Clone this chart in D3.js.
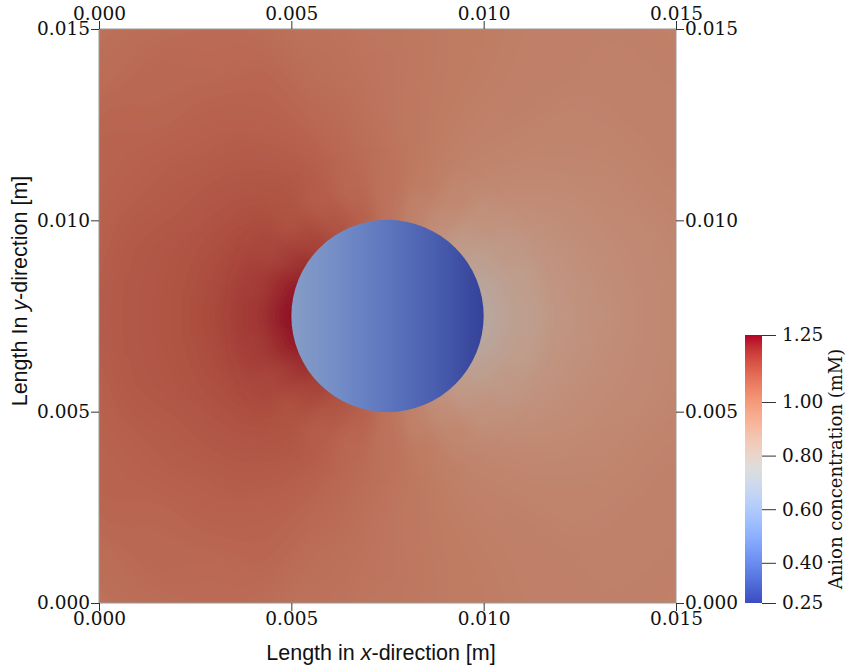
<!DOCTYPE html>
<html>
<head>
<meta charset="utf-8">
<title>Anion concentration around a cylinder</title>
<script src="https://d3js.org/d3.v7.min.js"></script>
<style>
  body { margin: 0; background: #fff; }
  .tick line { stroke: #333; }
</style>
</head>
<body>
<div id="chart"></div>
<script>
// ---- data ----
var xTicks = [0, 0.005, 0.010, 0.015];
var yTicks = [0, 0.005, 0.010, 0.015];
var cbTicks = [0.25, 0.40, 0.60, 0.80, 1.00, 1.25];

var cylCenter = [0.0075, 0.0075];   // m
var cylRadius = 0.0025;             // m

// sample angles (deg, counter-clockwise from +x), upper half; lower half is mirrored
var angles = [0, 15, 30, 45, 60, 75, 90, 105, 120, 135, 150, 165, 180];
// ring boundaries (distance from cylinder centre, m)
var ringEdges = [0.0025, 0.0028, 0.00325, 0.003875, 0.00475, 0.006, 0.0075, 0.0095, 0.0115];
// concentration (mM) per ring x angle
var ringValues = [
  [0.80, 0.81, 0.84, 0.88, 0.93, 0.98, 1.03, 1.08, 1.12, 1.16, 1.20, 1.23, 1.25],
  [0.83, 0.84, 0.86, 0.89, 0.94, 0.98, 1.03, 1.07, 1.10, 1.14, 1.17, 1.20, 1.21],
  [0.86, 0.87, 0.89, 0.92, 0.96, 1.00, 1.03, 1.06, 1.09, 1.12, 1.15, 1.17, 1.18],
  [0.89, 0.90, 0.91, 0.94, 0.97, 1.00, 1.03, 1.06, 1.10, 1.12, 1.14, 1.15, 1.16],
  [0.92, 0.93, 0.94, 0.96, 0.98, 1.00, 1.02, 1.05, 1.08, 1.10, 1.11, 1.12, 1.12],
  [0.95, 0.95, 0.96, 0.97, 0.99, 1.00, 1.02, 1.04, 1.07, 1.08, 1.09, 1.10, 1.10],
  [0.97, 0.97, 0.98, 0.98, 0.99, 1.00, 1.01, 1.03, 1.05, 1.06, 1.07, 1.07, 1.08],
  [0.98, 0.98, 0.98, 0.99, 0.99, 1.00, 1.01, 1.02, 1.03, 1.04, 1.04, 1.05, 1.05]
];

// inside the cylinder the value runs left to right
var insideX = [0.005, 0.00625, 0.0075, 0.00875, 0.010];
var insideValues = [0.58, 0.50, 0.42, 0.34, 0.25];

// cool to warm colour map
var coolWarm = ["#3b4cc0", "#4d68d7", "#6282ea", "#779af7", "#8db0fe", "#a3c2ff",
  "#b8d0f9", "#ccd9ee", "#dddddd", "#ecd3c5", "#f5c4ad", "#f7b194",
  "#f49a7b", "#ec7f63", "#de604d", "#cb3e38", "#b40426"];

var width = 846, height = 668;

var x = d3.scaleLinear().domain([0, 0.015]).range([99, 676]);
var y = d3.scaleLinear().domain([0, 0.015]).range([603, 29]);
var cb = d3.scaleLinear().domain([0.25, 1.25]).range([603, 335]);
var color = d3.scaleSequential(d3.piecewise(d3.interpolateRgb, coolWarm))
  .domain([0.25, 1.25]).clamp(true);

// surface is lit in the render, colours come out darker
function shade(c) {
  var k = d3.rgb(c);
  return d3.rgb(k.r * 0.75 + 8, k.g * 0.75 + 8, k.b * 0.75 + 8).formatHex();
}
function len(d) { return x(d) - x(0); }

var svg = d3.select("#chart").append("svg")
  .attr("width", width).attr("height", height);
var defs = svg.append("defs");

defs.append("clipPath").attr("id", "plotClip")
  .append("rect")
  .attr("x", x(0)).attr("y", y(0.015))
  .attr("width", x(0.015) - x(0)).attr("height", y(0) - y(0.015));

function addBlur(id, sd) {
  var f = defs.append("filter").attr("id", id)
    .attr("filterUnits", "userSpaceOnUse")
    .attr("x", -300).attr("y", -300).attr("width", 1500).attr("height", 1300);
  f.append("feGaussianBlur").attr("stdDeviation", sd);
}
addBlur("softFar", 20);
addBlur("softNear", 8);

// field cells
var cells = [];
ringValues.forEach(function (row, b) {
  angles.forEach(function (a, k) {
    cells.push({ b: b, a: a, v: row[k] });
    if (a > 0 && a < 180) cells.push({ b: b, a: -a, v: row[k] });
  });
});

var arc = d3.arc()
  .innerRadius(function (d) { return d.b === 0 ? 0 : len(ringEdges[d.b]); })
  .outerRadius(function (d) { return len(ringEdges[d.b + 1]); })
  .startAngle(function (d) { return (90 - d.a - 7.5) * Math.PI / 180; })
  .endAngle(function (d) { return (90 - d.a + 7.5) * Math.PI / 180; });

var field = svg.append("g").attr("clip-path", "url(#plotClip)");

function drawCells(list, filterId) {
  field.append("g")
    .attr("filter", "url(#" + filterId + ")")
    .attr("transform", "translate(" + x(cylCenter[0]) + "," + y(cylCenter[1]) + ")")
    .selectAll("path")
    .data(list)
    .enter()
    .append("path")
    .attr("d", arc)
    .attr("fill", function (d) { return shade(color(d.v)); })
    .attr("stroke", function (d) { return shade(color(d.v)); })
    .attr("stroke-width", 1);
}
drawCells(cells, "softFar");
drawCells(cells.filter(function (d) { return d.b <= 2; }), "softNear");

// cylinder
var grad = defs.append("linearGradient").attr("id", "cylFill")
  .attr("gradientUnits", "userSpaceOnUse")
  .attr("x1", x(insideX[0])).attr("x2", x(insideX[insideX.length - 1]))
  .attr("y1", 0).attr("y2", 0);
grad.selectAll("stop")
  .data(insideX)
  .enter()
  .append("stop")
  .attr("offset", function (d) {
    return (x(d) - x(insideX[0])) / (x(insideX[insideX.length - 1]) - x(insideX[0]));
  })
  .attr("stop-color", function (d, i) { return shade(color(insideValues[i])); });

svg.append("circle")
  .attr("cx", x(cylCenter[0]))
  .attr("cy", y(cylCenter[1]))
  .attr("r", len(cylRadius))
  .attr("fill", "url(#cylFill)");

// frame
svg.append("rect")
  .attr("x", x(0)).attr("y", y(0.015))
  .attr("width", x(0.015) - x(0)).attr("height", y(0) - y(0.015))
  .attr("fill", "none").attr("stroke", "#9a9a9a").attr("stroke-width", 1);

// axes
var fmt = d3.format(".3f");
function styleAxis(g) {
  g.select(".domain").remove();
  g.selectAll("text")
    .attr("font-family", "'DejaVu Serif', serif")
    .attr("font-size", 18.5)
    .attr("fill", "#111");
}
svg.append("g").attr("transform", "translate(0," + y(0) + ")")
  .call(d3.axisBottom(x).tickValues(xTicks).tickSize(8).tickPadding(1).tickFormat(fmt))
  .call(styleAxis);
svg.append("g").attr("transform", "translate(0," + y(0.015) + ")")
  .call(d3.axisTop(x).tickValues(xTicks).tickSize(8).tickPadding(1).tickFormat(fmt))
  .call(styleAxis);
svg.append("g").attr("transform", "translate(" + x(0) + ",0)")
  .call(d3.axisLeft(y).tickValues(yTicks).tickSize(8).tickPadding(1).tickFormat(fmt))
  .call(styleAxis);
svg.append("g").attr("transform", "translate(" + x(0.015) + ",0)")
  .call(d3.axisRight(y).tickValues(yTicks).tickSize(8).tickPadding(1).tickFormat(fmt))
  .call(styleAxis);

// axis titles
var xt = svg.append("text")
  .attr("x", 381).attr("y", 660)
  .attr("text-anchor", "middle")
  .attr("font-family", "'Liberation Sans', Arial, sans-serif")
  .attr("font-size", 21.5).attr("fill", "#111");
xt.append("tspan").text("Length in ");
xt.append("tspan").attr("font-style", "italic").text("x");
xt.append("tspan").text("-direction [m]");

var yt = svg.append("text")
  .attr("transform", "translate(27,291) rotate(-90)")
  .attr("text-anchor", "middle")
  .attr("font-family", "'Liberation Sans', Arial, sans-serif")
  .attr("font-size", 21.5).attr("fill", "#111");
yt.append("tspan").text("Length In ");
yt.append("tspan").attr("font-style", "italic").text("y");
yt.append("tspan").text("-direction [m]");

// colour bar
var cbGrad = defs.append("linearGradient").attr("id", "cbFill")
  .attr("x1", 0).attr("x2", 0).attr("y1", 1).attr("y2", 0);
cbGrad.selectAll("stop")
  .data(d3.range(0, 1.0001, 0.05))
  .enter()
  .append("stop")
  .attr("offset", function (d) { return d; })
  .attr("stop-color", function (d) { return color(0.25 + d * 1.0); });

svg.append("rect")
  .attr("x", 745).attr("y", cb(1.25))
  .attr("width", 17).attr("height", cb(0.25) - cb(1.25))
  .attr("fill", "url(#cbFill)");

svg.append("g").attr("transform", "translate(762,0)")
  .call(d3.axisRight(cb).tickValues(cbTicks).tickSize(14).tickPadding(6).tickFormat(d3.format(".2f")))
  .call(styleAxis)
  .selectAll(".tick line").attr("stroke", "#555");

svg.append("text")
  .attr("transform", "translate(842,469) rotate(-90)")
  .attr("text-anchor", "middle")
  .attr("font-family", "'DejaVu Serif', serif")
  .attr("font-size", 18).attr("fill", "#111")
  .text("Anion concentration (mM)");
</script>
</body>
</html>
